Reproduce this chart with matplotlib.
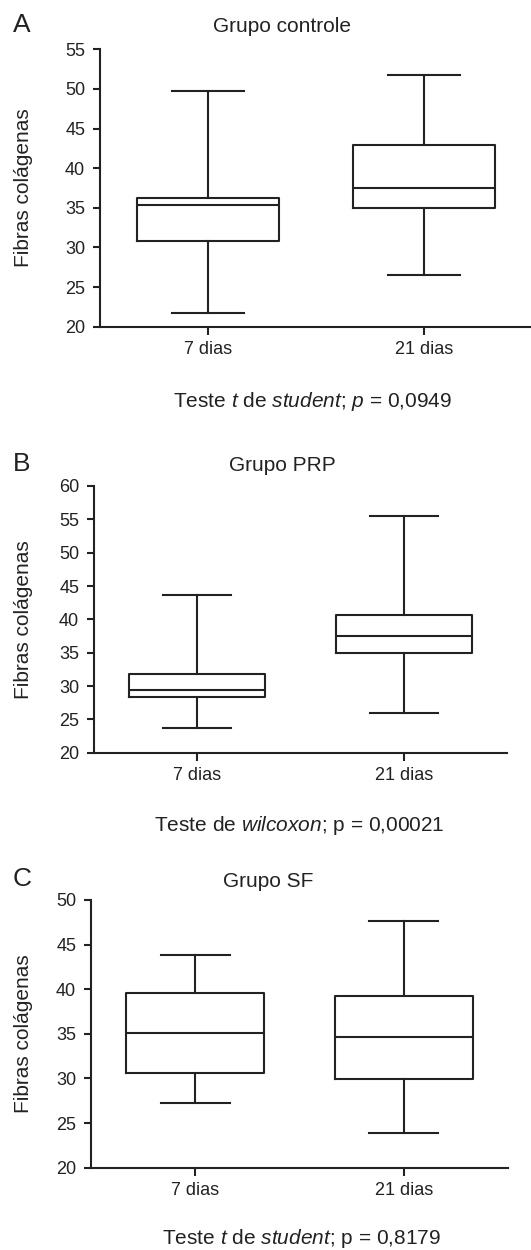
import numpy as np
import matplotlib
matplotlib.use('Agg')
import matplotlib.pyplot as plt

plt.rcParams['font.family'] = ['Liberation Sans', 'DejaVu Sans']
plt.rcParams['mathtext.fontset'] = 'custom'
plt.rcParams['mathtext.rm'] = 'Liberation Sans'
plt.rcParams['mathtext.it'] = 'Liberation Sans:italic'

# data (box = Q1/median/Q3, whiskers = min/max)
dias = ['7 dias', '21 dias']

controle_min = [21.7, 26.5]
controle_q1 = [30.8, 35.0]
controle_med = [35.3, 37.5]
controle_q3 = [36.3, 42.9]
controle_max = [49.8, 51.8]

prp_min = [23.7, 25.9]
prp_q1 = [28.4, 35.0]
prp_med = [29.4, 37.5]
prp_q3 = [31.8, 40.6]
prp_max = [43.7, 55.5]

sf_min = [27.3, 23.9]
sf_q1 = [30.6, 29.9]
sf_med = [35.1, 34.7]
sf_q3 = [39.6, 39.25]
sf_max = [43.8, 47.6]

letras = ['A', 'B', 'C']
titulos = ['Grupo controle', 'Grupo PRP', 'Grupo SF']
rodapes = [r'Teste $\mathit{t}$ de $\mathit{student}$; $\mathit{p}$ = 0,0949',
           r'Teste de $\mathit{wilcoxon}$; p = 0,00021',
           r'Teste $\mathit{t}$ de $\mathit{student}$; p = 0,8179']
ylims = [(20, 55), (20, 60), (20, 50)]

W, H = 531, 1250
fig = plt.figure(figsize=(W / 100, H / 100), dpi=100)

# panel placement in pixels: left, right, top, bottom of the axes
caixas = [(100, 532, 49.3, 326.7), (94, 507, 486, 752.7), (91, 508, 900, 1167.7)]
# text positions in pixels
letra_pos = [(22, 32.3), (22, 471), (22, 886)]
titulo_pos = [(282, 32.3), (282, 470.7), (268, 887.3)]
rodape_pos = [(312.5, 407), (299, 831), (301.7, 1243.5)]

dados = [
    (controle_min, controle_q1, controle_med, controle_q3, controle_max),
    (prp_min, prp_q1, prp_med, prp_q3, prp_max),
    (sf_min, sf_q1, sf_med, sf_q3, sf_max),
]

lw = 1.5
for i in range(3):
    l, r, t, b = caixas[i]
    ax = fig.add_axes([l / W, 1 - b / H, (r - l) / W, (b - t) / H])
    mn, q1, med, q3, mx = dados[i]
    stats = []
    for j in range(len(dias)):
        stats.append({'whislo': mn[j], 'q1': q1[j], 'med': med[j], 'q3': q3[j],
                      'whishi': mx[j], 'fliers': [], 'label': dias[j]})
    ax.bxp(stats, positions=[1, 2], widths=0.66, capwidths=0.33, showfliers=False,
           boxprops=dict(color='#222222', linewidth=lw),
           medianprops=dict(color='#222222', linewidth=lw),
           whiskerprops=dict(color='#222222', linewidth=lw),
           capprops=dict(color='#222222', linewidth=lw))
    ax.set_xlim(0.5, 2.5)
    ax.set_ylim(*ylims[i])
    ax.set_yticks(np.arange(ylims[i][0], ylims[i][1] + 1, 5))
    ax.set_xticks([1, 2])
    ax.set_xticklabels(dias)
    ax.spines['top'].set_visible(False)
    ax.spines['right'].set_visible(False)
    ax.spines['left'].set_linewidth(lw)
    ax.spines['bottom'].set_linewidth(lw)
    ax.spines['left'].set_color('#222222')
    ax.spines['bottom'].set_color('#222222')
    ax.tick_params(axis='y', length=5.2, width=lw, pad=5.5, labelsize=13, colors='#222222')
    ax.tick_params(axis='x', length=5.5, width=lw, pad=5, labelsize=13, colors='#222222')

    fig.text(24 / W, 1 - (t + b) / 2 / H, 'Fibras colágenas', rotation=90,
             ha='center', va='center', fontsize=15, color='#222222')
    fig.text(letra_pos[i][0] / W, 1 - letra_pos[i][1] / H, letras[i],
             ha='center', va='baseline', fontsize=19, color='#222222')
    fig.text(titulo_pos[i][0] / W, 1 - titulo_pos[i][1] / H, titulos[i],
             ha='center', va='baseline', fontsize=15, color='#222222')
    fig.text(rodape_pos[i][0] / W, 1 - rodape_pos[i][1] / H, rodapes[i],
             ha='center', va='baseline', fontsize=15, color='#222222')

fig.savefig('out.png', dpi=100)
